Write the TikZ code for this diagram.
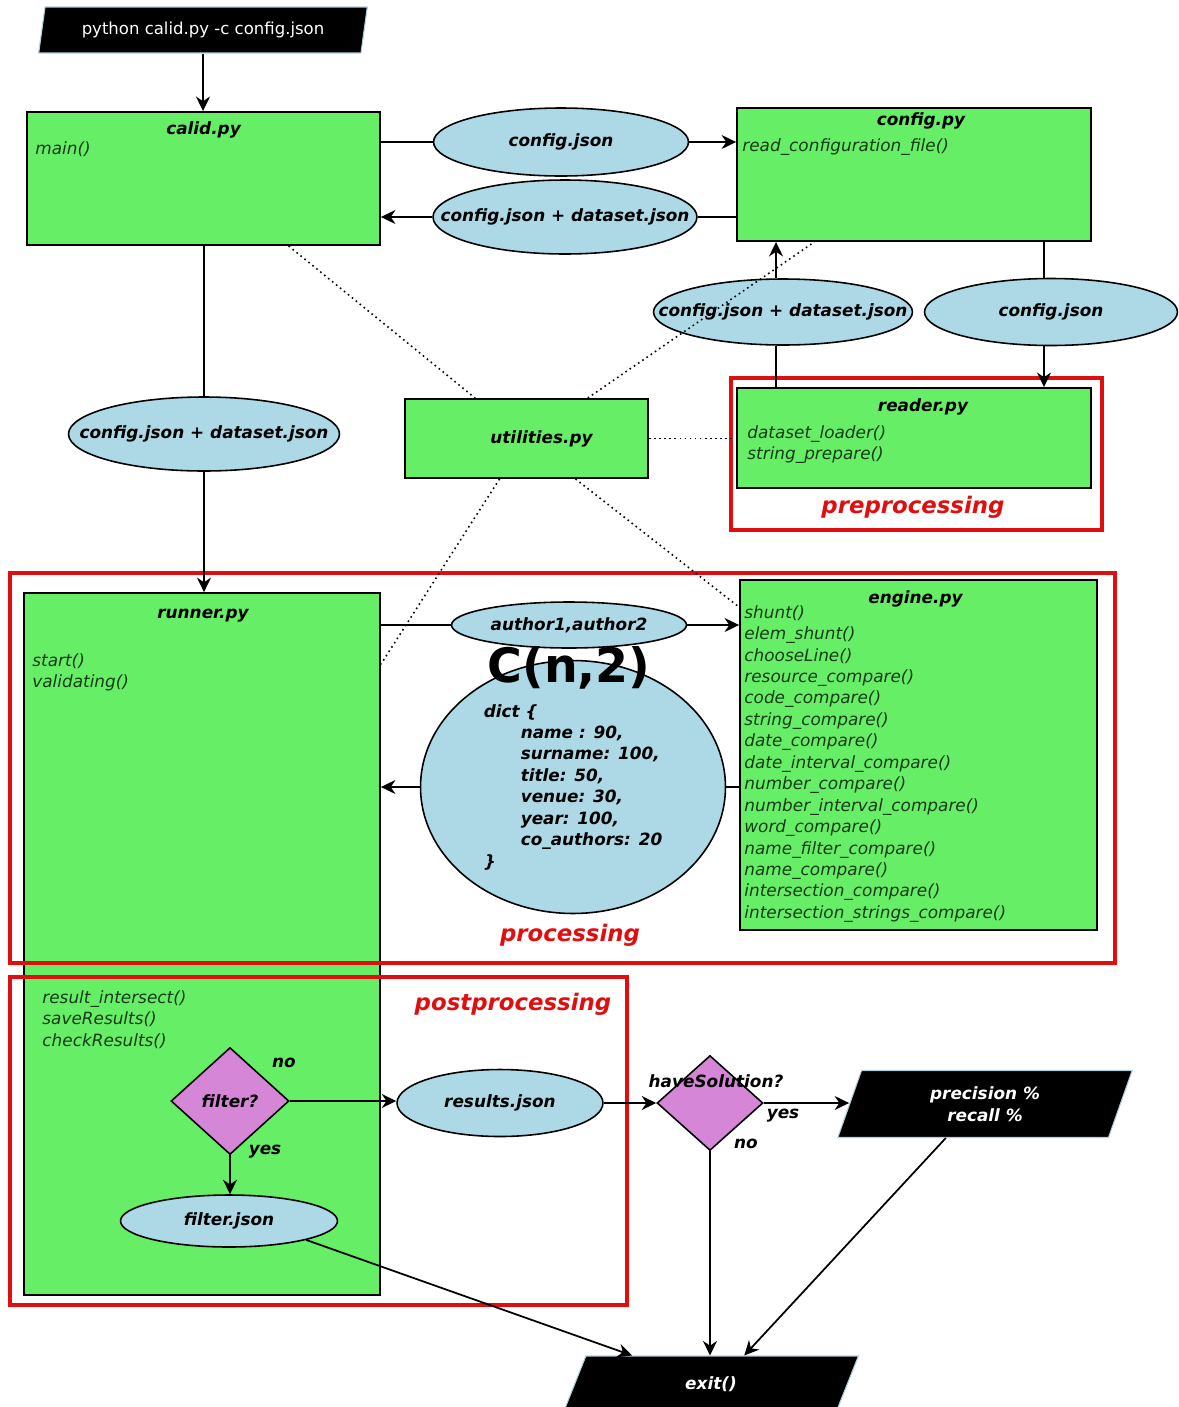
\documentclass[tikz,border=0pt]{standalone}
\usepackage{fontspec}
\setmainfont{DejaVu Sans}
\usetikzlibrary{arrows.meta,positioning,calc,shapes.geometric}
\definecolor{moduleGreen}{RGB}{102,238,102}
\definecolor{dataBlue}{RGB}{173,216,230}
\definecolor{choiceViolet}{RGB}{214,134,214}
\definecolor{stageRed}{RGB}{224,14,14}
\definecolor{funcGreen}{RGB}{22,58,22}
\definecolor{ioEdge}{RGB}{176,206,218}

\begin{document}
\begin{tikzpicture}[x=0.02cm,y=-0.02cm,
    font=\fontsize{9.6}{12.2}\selectfont,
    module/.style={draw=black,line width=1.1pt,fill=moduleGreen,inner sep=0pt},
    modtitle/.style={font=\fontsize{9.6}{12.2}\selectfont\bfseries\itshape,inner sep=0pt},
    funcs/.style={font=\fontsize{9.6}{12.2}\selectfont\itshape,text=funcGreen,
      align=left,inner sep=0pt,anchor=north west},
    data/.style={ellipse,draw=black,line width=0.9pt,fill=dataBlue,inner sep=0pt,
      font=\fontsize{9.6}{12.2}\selectfont\bfseries\itshape},
    longdata/.style={data,inner xsep=-22pt},
    choice/.style={diamond,draw=black,line width=0.9pt,fill=choiceViolet,inner sep=0pt,
      font=\fontsize{9.6}{12.2}\selectfont\bfseries\itshape},
    io/.style={trapezium,trapezium left angle=73,trapezium right angle=107,
      trapezium stretches=true,fill=black,draw=ioEdge,line width=0.6pt,
      text=white,inner sep=0pt,align=center,
      font=\fontsize{9.6}{12.2}\selectfont\bfseries\itshape},
    tag/.style={font=\fontsize{9.6}{12.2}\selectfont\bfseries\itshape,inner sep=0pt},
    stage/.style={draw=stageRed,line width=2.3pt},
    stagelabel/.style={text=stageRed,inner sep=0pt,
      font=\fontsize{13}{15}\selectfont\bfseries\itshape},
    flow/.style={line width=1pt},
    arrow/.style={flow,-{Stealth[length=2.9mm,width=2.8mm]}},
    link/.style={dotted,line width=0.9pt}
  ]
  \path[use as bounding box,fill=white] (0,0) rectangle (1179,1407);

  % modules
  \node[module,minimum width=7.06cm,minimum height=2.66cm] (calid) at (203.5,178.5) {};
  \node[modtitle] (calidT) at ($(calid.north)+(0,19)$) {calid.py};
  \node[funcs] (calidF) at ($(calid.north west)+(9,30)$) {main()};

  \node[module,minimum width=7.08cm,minimum height=2.66cm] (config) at (914,174.5) {};
  \node[modtitle] (configT) at ($(config.north)+(7,14)$) {config.py};
  \node[funcs] (configF) at ($(config.north west)+(6,31)$) {read\_configuration\_file()};

  \node[module,minimum width=7.08cm,minimum height=2.0cm] (reader) at (914,438) {};
  \node[modtitle] (readerT) at ($(reader.north)+(9,20)$) {reader.py};
  \node[funcs] (readerF) at ($(reader.north west)+(11,38)$) {dataset\_loader()\\string\_prepare()};

  \node[module,minimum width=4.86cm,minimum height=1.58cm,
    font=\fontsize{9.6}{12.2}\selectfont\bfseries\itshape] (util) at (526.5,438.5)
    {\hspace*{0.6cm}utilities.py};

  \node[module,minimum width=7.12cm,minimum height=14.04cm] (runner) at (202,944) {};
  \node[modtitle] (runnerT) at ($(runner.north)+(1,23)$) {runner.py};
  \node[funcs] (runnerF) at ($(runner.north west)+(9,61)$) {start()\\validating()};
  \node[funcs] (runnerG) at ($(runner.north west)+(19,398)$)
    {result\_intersect()\\saveResults()\\checkResults()};

  \node[module,minimum width=7.14cm,minimum height=7.0cm] (engine) at (918.5,755) {};
  \node[modtitle] (engineT) at ($(engine.north)+(-3,20)$) {engine.py};
  \node[funcs] (engineF) at ($(engine.north west)+(5,26)$)
    {shunt()\\elem\_shunt()\\chooseLine()\\resource\_compare()\\code\_compare()\\
     string\_compare()\\date\_compare()\\date\_interval\_compare()\\number\_compare()\\
     number\_interval\_compare()\\word\_compare()\\name\_filter\_compare()\\
     name\_compare()\\intersection\_compare()\\intersection\_strings\_compare()};

  % stages
  \draw[stage] (731,378) rectangle (1102,530);
  \node[stagelabel] (preL) at (913,507) {preprocessing};
  \draw[stage] (10,573) rectangle (1115,963);
  \node[stagelabel] (procL) at (570,935) {processing};
  \draw[stage] (10,977) rectangle (627,1305);
  \node[stagelabel] (postL) at (513,1004) {postprocessing};

  % data passed around
  \node[io,font=\fontsize{9.4}{12}\selectfont,minimum width=6.58cm,minimum height=0.92cm]
    (cmd) at (203,30) {python calid.py -c config.json};
  \node[data,minimum width=5.1cm,minimum height=1.36cm] (cfgA) at (561,142) {config.json};
  \node[longdata,minimum width=5.28cm,minimum height=1.48cm] (cfgB) at (565,217) {config.json + dataset.json};
  \node[longdata,minimum width=5.18cm,minimum height=1.32cm] (cfgC) at (783,312) {config.json + dataset.json};
  \node[data,minimum width=5.06cm,minimum height=1.34cm] (cfgD) at (1051,312) {config.json};
  \node[longdata,minimum width=5.42cm,minimum height=1.48cm] (cfgE) at (204,434) {config.json + dataset.json};
  \node[data,minimum width=4.7cm,minimum height=0.92cm] (pair) at (569,625) {author1,author2};
  \node[data,minimum width=6.1cm,minimum height=5.06cm,align=left] (dict) at (573,787)
    {dict \{\\
     \hspace*{0.74cm}name : 90,\\
     \hspace*{0.74cm}surname: 100,\\
     \hspace*{0.74cm}title: 50,\\
     \hspace*{0.74cm}venue: 30,\\
     \hspace*{0.74cm}year: 100,\\
     \hspace*{0.74cm}co\_authors: 20\\
     \}};
  \node[font=\fontsize{27}{30}\selectfont\bfseries,inner sep=0pt] (comb) at (569,668) {C(n,2)};

  \node[choice,minimum width=2.36cm,minimum height=2.14cm] (filter) at (230,1101) {filter?};
  \node[data,minimum width=4.34cm,minimum height=1.04cm] (filterJ) at (229,1221) {filter.json};
  \node[data,minimum width=4.12cm,minimum height=1.34cm] (results) at (500,1103) {results.json};
  \node[choice,minimum width=2.12cm,minimum height=1.9cm] (have) at (710,1103) {};
  \node[tag] (haveL) at (716,1081) {haveSolution?};
  \node[io,minimum width=5.9cm,minimum height=1.34cm] (prec) at (985,1104) {precision \%\\recall \%};
  \node[io,minimum width=5.9cm,minimum height=1.12cm] (exit) at (711,1384) {exit()};

  \node[tag] (noA) at (284,1063) {no};
  \node[tag] (yesA) at (265,1152) {yes};
  \node[tag] (yesB) at (783,1116) {yes};
  \node[tag] (noB) at (746,1144) {no};

  % flow
  \draw[arrow] (cmd.south) -- (cmd.south |- calid.north);
  \draw[flow] (calid.east |- cfgA) -- (cfgA.west);
  \draw[arrow] (cfgA.east) -- (config.west |- cfgA.east);
  \draw[flow] (config.west |- cfgB) -- (cfgB.east);
  \draw[arrow] (cfgB.west) -- (calid.east |- cfgB.west);
  \draw[flow] ($(reader.north -| cfgC)+(-7,0)$) -- ($(cfgC.south)+(-7,0)$);
  \draw[arrow] ($(cfgC.north)+(-7,0)$) -- ($(config.south -| cfgC.north)+(-7,0)$);
  \draw[flow] ($(config.south -| cfgD)+(-7,0)$) -- ($(cfgD.north)+(-7,0)$);
  \draw[arrow] ($(cfgD.south)+(-7,0)$) -- ($(reader.north -| cfgD.south)+(-7,0)$);
  \draw[flow] (calid.south -| cfgE) -- (cfgE.north);
  \draw[arrow] (cfgE.south) -- (runner.north -| cfgE.south);
  \draw[flow] (runner.east |- pair) -- (pair.west);
  \draw[arrow] (pair.east) -- (engine.west |- pair.east);
  \draw[flow] (engine.west |- dict) -- (dict.east);
  \draw[arrow] (dict.west) -- (runner.east |- dict.west);
  \draw[arrow] (filter.east) -- (results.west |- filter.east);
  \draw[arrow] (filter.south) -- (filter.south |- filterJ.north);
  \draw[arrow] (filterJ.south east) -- ($(exit.top left corner)!0.17!(exit.top right corner)$);
  \draw[arrow] (results.east) -- (have.west);
  \draw[arrow] (have.east) -- (prec.west |- have.east);
  \draw[arrow] (have.south) -- (have.south |- exit.top left corner);
  \draw[arrow] ($(prec.bottom left corner)!0.4!(prec.bottom right corner)$)
    -- ($(exit.top left corner)!0.58!(exit.top right corner)$);

  % uses utilities.py
  \draw[link] ($(calid.south west)!0.74!(calid.south east)$) -- ($(util.north west)!0.29!(util.north east)$);
  \draw[link] ($(util.north west)!0.75!(util.north east)$) -- ($(config.south west)!0.22!(config.south east)$);
  \draw[link] (util.east) -- (reader.west |- util.east);
  \draw[link] ($(util.south west)!0.39!(util.south east)$) -- ($(runner.north east)+(0,72)$);
  \draw[link] ($(util.south west)!0.7!(util.south east)$) -- ($(engine.north west)+(0,28)$);
\end{tikzpicture}
\end{document}
